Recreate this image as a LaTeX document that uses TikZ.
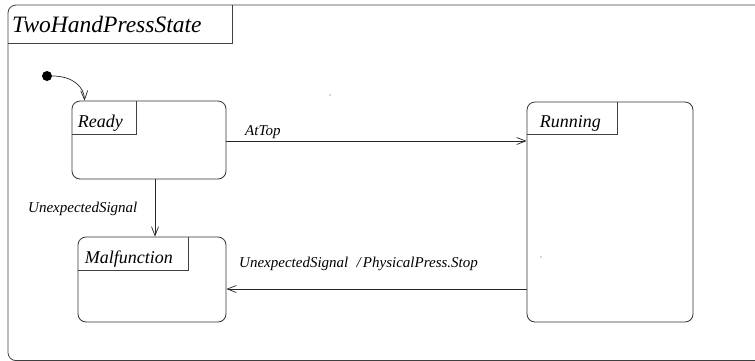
\documentclass[tikz,border=0pt]{standalone}
\usepackage{fontspec}
\setmainfont{Liberation Serif}
\usetikzlibrary{arrows.meta}
\tikzset{
  stbox/.style={draw=black!80, line width=0.8pt, rounded corners=8pt, rectangle, inner sep=0pt},
  lblarea/.style={rectangle, inner sep=0pt, anchor=north west},
  lbltxt/.style={font=\itshape\fontsize{18}{18}\selectfont, inner sep=0pt, anchor=base west},
  trtxt/.style={font=\itshape\fontsize{15}{15}\selectfont, inner sep=0pt, anchor=base west},
  arr/.style={draw=black!85, line width=0.7pt, -{Straight Barb[length=9pt,width=7pt,line width=0.7pt]}},
  frame/.style={draw=black!75, line width=0.8pt}
}
\begin{document}
\begin{tikzpicture}[x=1pt,y=-1pt]
\useasboundingbox (0,0) rectangle (755,360);
\clip (0,0) rectangle (755,360);
% outer frame
\draw[frame, rounded corners=8pt] (8,5) rectangle (775,360.6);
\coordinate (ttlSE) at (232,43);
\draw[frame] (8,43) -- (ttlSE) -- (232,5);
\node[font=\itshape\fontsize{23.5}{23.5}\selectfont, inner sep=0pt, anchor=base west] (title) at (12,32) {TwoHandPressState};

% states
\node[stbox, minimum width=154pt, minimum height=78pt] (ready) at (149,140) {};
\node[lblarea, minimum width=64pt, minimum height=33pt] (readyL) at (ready.north west) {};
\draw[frame] (readyL.south west) -| (readyL.north east);
\node[lbltxt] (readyT) at ([xshift=6pt,yshift=7pt]readyL.south west) {Ready};

\node[stbox, minimum width=148pt, minimum height=85pt] (mal) at (152,279.5) {};
\node[lblarea, minimum width=110pt, minimum height=33pt] (malL) at (mal.north west) {};
\draw[frame] (malL.south west) -| (malL.north east);
\node[lbltxt] (malT) at ([xshift=7pt,yshift=7pt]malL.south west) {Malfunction};

\node[stbox, minimum width=166pt, minimum height=220pt] (run) at (610,212) {};
\node[lblarea, minimum width=90pt, minimum height=32pt] (runL) at (run.north west) {};
\draw[frame] (runL.south west) -| (runL.north east);
\node[lbltxt] (runT) at ([xshift=13pt,yshift=7pt]runL.south west) {Running};

% initial state
\node[circle, fill=black, minimum size=10pt, inner sep=0pt] (init) at (47,76) {};
\coordinate (readyIn) at ([xshift=13pt]ready.north west);
\draw[arr] (init.east) .. controls (72,76) and (84,86) .. (readyIn);

% transitions
\coordinate (atA) at ([yshift=-1pt]ready.east);
\draw[arr] (atA) -- (atA -| run.west);
\node[trtxt] (atL) at (245,135) {AtTop};

\coordinate (usA) at ([xshift=6pt]ready.south);
\draw[arr] (usA) -- (usA |- mal.north);
\node[trtxt] (usL) at (28,212) {UnexpectedSignal};

\coordinate (rmA) at ([yshift=-77pt]run.west);
\draw[arr] (rmA) -- (rmA -| mal.east);
\node[trtxt] (rmL) at (239,267) {UnexpectedSignal\hspace{0.55em}/\hspace{0.15em}PhysicalPress.Stop};

% stray dots
\fill[black!70] (330,95) circle (0.7pt);
\fill[black!70] (541,257) circle (0.7pt);
\end{tikzpicture}
\end{document}
